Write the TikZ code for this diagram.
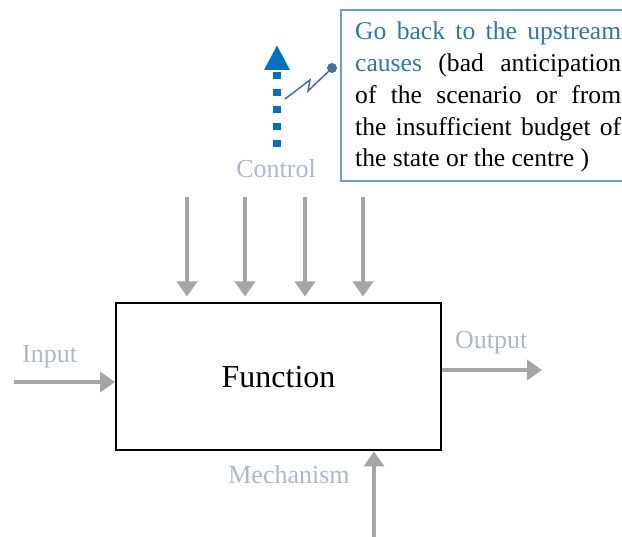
\documentclass[tikz,border=0pt]{standalone}
\usepackage{fontspec}
\setmainfont{Liberation Serif}
\usetikzlibrary{arrows.meta,calc}

\definecolor{flowgray}{HTML}{A5A5A5}
\definecolor{lblgray}{HTML}{ADB9CA}
\definecolor{ctrlblue}{HTML}{0070C0}
\definecolor{noteblue}{HTML}{2E75B6}
\definecolor{noteframe}{HTML}{6A9FD3}
\definecolor{zigblue}{HTML}{44719F}

\tikzset{
  flow/.style={flowgray, line width=4pt, -{Triangle[width=20pt,length=15pt]}},
  lbl/.style={lblgray, font=\fontsize{26}{31}\selectfont, inner sep=0pt},
}

\begin{document}
\begin{tikzpicture}[x=1pt,y=-1pt]
    \useasboundingbox (0,0) rectangle (622,537);

    % Funktion
    \node[draw, line width=2pt, minimum width=325pt, minimum height=147pt,
          font=\fontsize{32}{38}\selectfont] (func) at (278.5,377) {Function};

    % Control
    \node[lbl, anchor=base] (ctrl) at (276,178) {Control};
    \foreach \x [count=\i] in {187,245,305,363} {
        \coordinate (c\i) at (\x,197);
        \draw[flow, shorten >=6pt] (c\i) -- (c\i |- func.north);
    }

    % Input / Output
    \coordinate (in0) at (14,382);
    \node[lbl, anchor=base west] (inlbl) at (22,363) {Input};
    \draw[flow] (in0) -- (in0 -| func.west);

    \coordinate (out1) at (542,370);
    \node[lbl, anchor=base west] (outlbl) at (455,349) {Output};
    \draw[flow] (out1 -| func.east) -- (out1);

    % Mechanism
    \coordinate (mech0) at (374,537);
    \node[lbl, anchor=base] (mechlbl) at (289,484) {Mechanism};
    \draw[flow] (mech0) -- (mech0 |- func.south);

    % Rueckkopplung
    \coordinate (up0) at (277,147);
    \coordinate (up1) at (277,45);
    \draw[ctrlblue, line width=7.5pt, dash pattern=on 7pt off 10pt,
          -{Triangle[width=24pt,length=25pt]}] (up0) -- (up1);

    % Notiz
    \draw[noteframe, line width=1.5pt] (341,10) rectangle (640,181);
    \node[anchor=base west, text width=266pt, align=justify, inner sep=0pt,
          font=\fontsize{25.6}{31.7}\selectfont] (note) at (355,40)
        {\textcolor{noteblue}{Go back to the upstream\linebreak causes} (bad anticipation\linebreak
         of the scenario or from\linebreak the insufficient budget of\linebreak
         the state or the centre )};

    \coordinate (z0) at (285,99);
    \coordinate (z1) at (310,80);
    \coordinate (z2) at (308,91);
    \coordinate (z3) at (332,68);
    \draw[zigblue, line width=1.5pt] (z0) -- (z1) -- (z2) -- (z3);
    \fill[zigblue] (z3) circle (5);
\end{tikzpicture}
\end{document}
